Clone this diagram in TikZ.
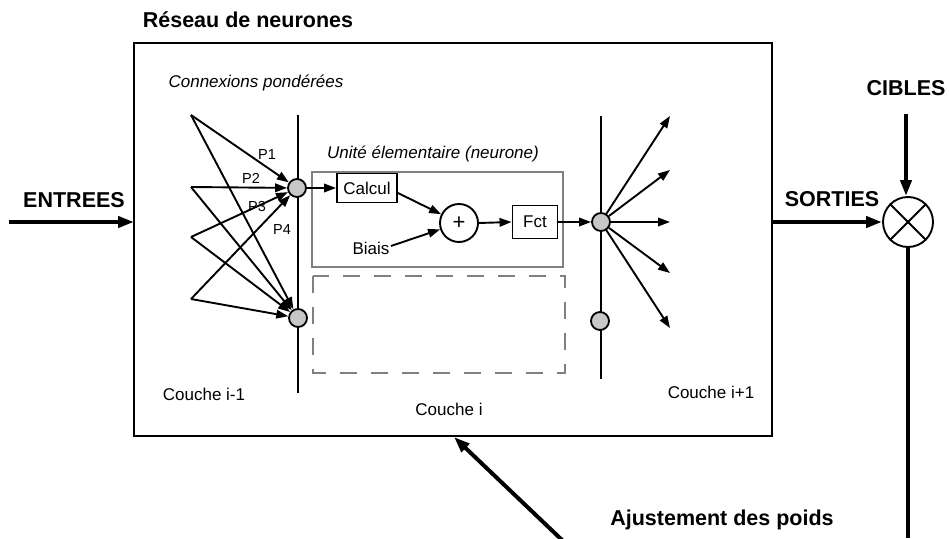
\documentclass[tikz,border=0pt]{standalone}
\usepackage{fontspec}
\setmainfont{Liberation Sans}
\usetikzlibrary{arrows.meta}
\tikzset{
  thin arr/.style={line width=1.9pt,-{Triangle[length=12pt,width=8.5pt]}},
  thick arr/.style={line width=4pt,-{Triangle[length=16pt,width=11pt]}},
  dot/.style={circle,draw=black,line width=1.8pt,fill=black!22,minimum size=18pt,inner sep=0pt},
  boxn/.style={draw=black,line width=1.9pt,inner sep=0pt,font=\fontsize{17}{20}\selectfont},
  big/.style={font=\fontsize{21.5}{24}\selectfont\bfseries},
  norm/.style={font=\fontsize{17}{20}\selectfont},
  ital/.style={font=\fontsize{17}{20}\selectfont\itshape},
  small/.style={font=\fontsize{14.5}{16}\selectfont},
}
\begin{document}
\begin{tikzpicture}[x=1pt,y=-1pt]
\useasboundingbox (0,0) rectangle (949,538);
% main box
\draw[line width=2pt] (134,43) rectangle (772,436);
\node[big] (title) at (248,20) {Réseau de neurones};
\node[ital] (conn) at (256,83) {Connexions pondérées};
% layer lines
\draw[line width=1.9pt] (298,115) -- (298,393);
\draw[line width=1.9pt] (601,116) -- (601,379);
% unit box
\draw[draw=black!50,line width=2.2pt] (312,172) rectangle (563,267);
\node[ital] (unit) at (433,154) {Unité élementaire (neurone)};
\draw[draw=black!50,line width=2.2pt,dash pattern=on 17pt off 14pt] (313,276) rectangle (565,373);
% sources
\coordinate (s1) at (191,115);
\coordinate (s2) at (191,187);
\coordinate (s3) at (191,237);
\coordinate (s4) at (191,299);
\node[dot] (n1) at (297,188) {};
\node[dot] (n2) at (298,318) {};
\foreach \s in {s1,s2,s3,s4}{
  \draw[thin arr] (\s) -- (n1);
  \draw[thin arr] (\s) -- (n2);
}
\node[small] (p1) at (267,155) {P1};
\node[small] (p2) at (251,178) {P2};
\node[small] (p3) at (257,207) {P3};
\node[small] (p4) at (282,230) {P4};
% neuron
\node[boxn,minimum width=60pt,minimum height=29pt] (calc) at (367,188) {Calcul};
\node[circle,draw=black,line width=1.9pt,minimum size=38pt,inner sep=0pt,font=\fontsize{22}{24}\selectfont] (plus) at (459,223) {+};
\node[boxn,minimum width=45pt,minimum height=33pt] (fct) at (535,222) {Fct};
\node[norm] (biais) at (371,248) {Biais};
\draw[thin arr] (n1) -- (calc.west);
\draw[thin arr] ([yshift=-5pt]calc.east) -- (plus);
\draw[thin arr] ([xshift=-2pt,yshift=2pt]biais.east) -- (plus);
\draw[thin arr] (plus.east) -- (fct.west);
\node[dot] (r1) at (601,222) {};
\node[dot] (r2) at (600,321) {};
\draw[thin arr] (fct.east) -- (r1);
\coordinate (f1) at (670,116);
\coordinate (f2) at (670,170);
\coordinate (f3) at (670,222);
\coordinate (f4) at (670,273);
\coordinate (f5) at (670,328);
\foreach \f in {f1,f2,f3,f4,f5}{\draw[thin arr] (r1) -- (\f);}
% layer labels
\node[norm] (c1) at (204,394) {Couche i-1};
\node[norm] (c2) at (449,409) {Couche i};
\node[norm] (c3) at (711,392) {Couche i+1};
% outside
\node[big] (entrees) at (74,200) {ENTREES};
\coordinate (e0) at (9,222);
\coordinate (e1) at (134,222);
\draw[thick arr] (e0) -- (e1);
\node[big] (sorties) at (832,199) {SORTIES};
\node[circle,draw=black,line width=1.9pt,minimum size=50pt,inner sep=0pt] (cross) at (908,222) {};
\draw[line width=1.9pt] (cross.north west) -- (cross.south east);
\draw[line width=1.9pt] (cross.north east) -- (cross.south west);
\coordinate (o0) at (773,222);
\draw[thick arr] (o0) -- (cross);
\node[big] (cibles) at (906,88) {CIBLES};
\coordinate (t0) at (906,114);
\draw[thick arr] (t0) -- (cross.north -| t0);
\coordinate (b0) at (908,538);
\draw[line width=4pt] (cross.south) -- (b0);
\node[big] (ajust) at (722,520) {Ajustement des poids};
\coordinate (a0) at (562,540);
\coordinate (a1) at (454,437);
\draw[thick arr] (a0) -- (a1);
\end{tikzpicture}
\end{document}
